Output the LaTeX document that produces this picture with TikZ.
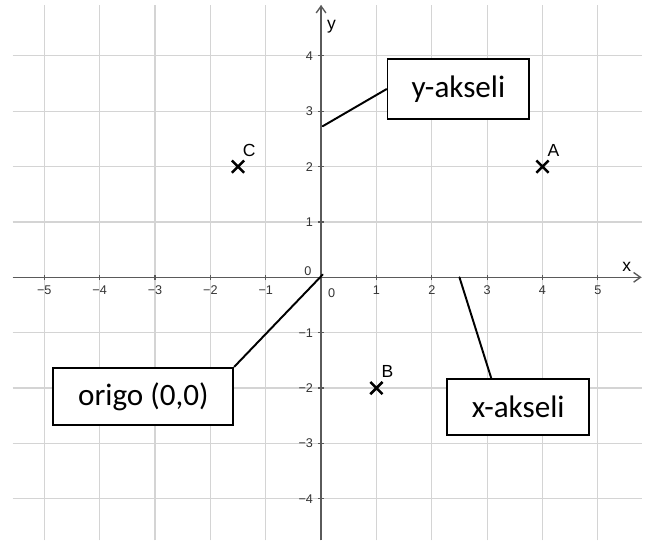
\documentclass[tikz,border=0pt]{standalone}
\usepackage{fontspec}
\setmainfont{Carlito}
\newfontfamily\axisfont{Liberation Sans}
\usetikzlibrary{arrows.meta,calc}
\definecolor{gridgray}{HTML}{D4D4D4}
\definecolor{axisgray}{HTML}{5A5A5A}

\begin{document}
\begin{tikzpicture}[x=1cm, y=1cm,
  gridline/.style={draw=gridgray, line width=0.6pt},
  axisline/.style={draw=axisgray, line width=0.7pt, -{Straight Barb[length=3.5pt,width=5pt]}},
  ticklabel/.style={inner sep=0pt, font=\axisfont\fontsize{6.5}{7}\selectfont, text=black!80},
  ptlabel/.style={inner sep=0pt, font=\axisfont\fontsize{9}{10}\selectfont},
  callout/.style={draw, line width=1pt, fill=white, font=\fontsize{16}{19}\selectfont, inner sep=0pt},
  connector/.style={line width=1pt, line cap=round}]

  \useasboundingbox (-5.80,-4.75) rectangle (5.96,5.01);

  % grid
  \foreach \k in {-5,...,5}
    \draw[gridline] (\k,-4.75) -- (\k,4.92);
  \foreach \k in {-4,...,4}
    \draw[gridline] (-5.57,\k) -- (5.79,\k);

  % axes
  \draw[axisline] (-5.57,0) -- (5.79,0);
  \draw[axisline] (0,-4.75) -- (0,4.92);
  \foreach \k in {-5,...,5}
    \draw[axisgray, line width=0.6pt] (\k,-0.05) -- (\k,0.05);
  \foreach \k in {-4,...,4}
    \draw[axisgray, line width=0.6pt] (-0.05,\k) -- (0.05,\k);

  % tick labels
  \foreach \k in {1,...,5}
    \node[ticklabel, anchor=north] (xt\k) at (\k,-0.15) {\k};
  \foreach \k in {1,...,5}
    \node[ticklabel, anchor=north] (xtm\k) at (-\k,-0.15) {−\k};
  \foreach \k in {1,...,4}
    \node[ticklabel, anchor=east] (yt\k) at (-0.14,\k) {\k};
  \foreach \k in {1,...,4}
    \node[ticklabel, anchor=east] (ytm\k) at (-0.14,-\k) {−\k};
  \node[ticklabel] (zeroy) at (-0.24,0.12) {0};
  \node[ticklabel] (zerox) at (0.19,-0.29) {0};
  \node[ptlabel] (xlab) at (5.52,0.19) {x};
  \node[ptlabel] (ylab) at (0.19,4.53) {y};

  % points
  \foreach \name/\px/\py in {A/4/2, B/1/-2, C/-1.5/2} {
    \coordinate (pt\name) at (\px,\py);
    \draw[line width=1.3pt] (pt\name) ++(-0.11,-0.11) -- ++(0.22,0.22)
                            (pt\name) ++(-0.11,0.11) -- ++(0.22,-0.22);
    \node[ptlabel] (lab\name) at ($(pt\name)+(0.2,0.3)$) {\name};
  }

  % callouts
  \coordinate (orig) at (0.03,0.05);
  \coordinate (onyaxis) at (0.03,2.73);
  \coordinate (onxaxis) at (2.5,0);
  \node[callout, minimum width=2.56cm, minimum height=1.08cm] (yakse) at (2.48,3.40) {y-akseli};
  \node[callout, minimum width=3.25cm, minimum height=1.035cm] (origo) at (-3.21,-2.15) {origo (0,0)};
  \node[callout, minimum width=2.56cm, minimum height=1.01cm] (xakse) at (3.56,-2.34) {x-akseli};

  \draw[connector] (yakse.west) -- (onyaxis);
  \draw[connector] (origo.north east) -- (orig);
  \draw[connector] (xakse.133) -- (onxaxis);
\end{tikzpicture}
\end{document}
